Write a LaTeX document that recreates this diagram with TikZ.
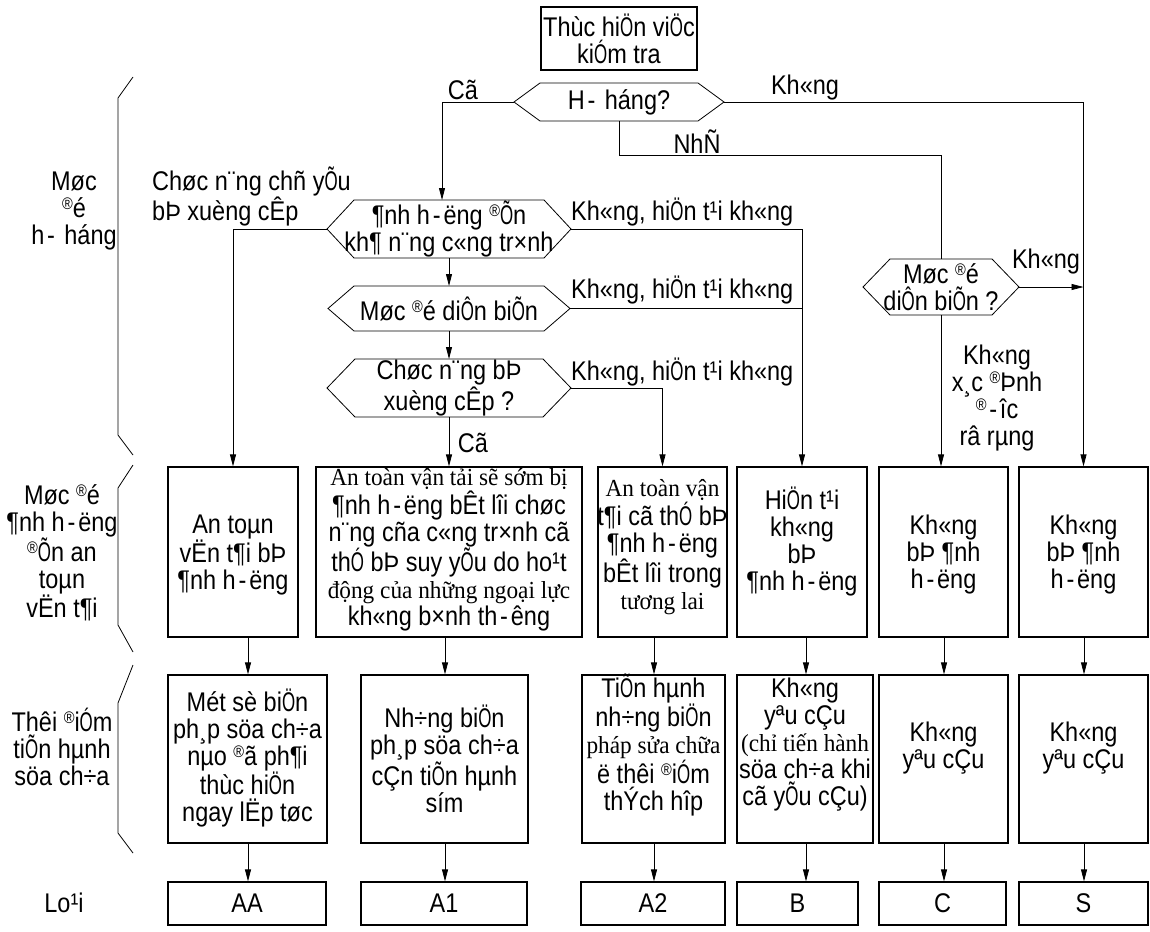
\documentclass[tikz,border=0pt]{standalone}
\usepackage{fontspec}
\setmainfont[FakeStretch=0.87]{Liberation Sans}
\newfontfamily\vnserifface[FakeStretch=0.95]{Liberation Serif}
\newcommand{\vnserif}{\vnserifface\fontsize{24.5}{27}\selectfont}
\newcommand{\vnR}{\raisebox{0.3em}{\scalebox{0.62}{®}}}
\newcommand{\vnh}{\makebox[0.5em]{-}}
\newcommand{\vnO}[1]{\scalebox{0.72}[1]{#1}}
\usetikzlibrary{arrows.meta,calc}
\newcommand{\myhex}[7]{%
  \node[txt] (#1) at (#2,#3) {#7};
  \coordinate (#1-w) at ({#2-#4-#6},#3);
  \coordinate (#1-e) at ({#2+#4+#6},#3);
  \coordinate (#1-n) at (#2,{#3-#5});
  \coordinate (#1-s) at (#2,{#3+#5});
  \draw[conn] (#1-w) -- ({#2-#4},{#3-#5}) -- ({#2+#4},{#3-#5}) -- (#1-e)
     -- ({#2+#4},{#3+#5}) -- ({#2-#4},{#3+#5}) -- cycle;
}
\begin{document}
\begin{tikzpicture}[x=1pt,y=-1pt,
  every node/.style={font=\fontsize{27}{27}\selectfont, inner sep=0pt},
  txt/.style={align=center},
  boxnode/.style={draw, line width=1.2pt, rectangle},
  conn/.style={line width=0.8pt},
  arr/.style={conn, -{Triangle[length=12pt,width=6pt]}},
]
\useasboundingbox (0,0) rectangle (1150,931);

% top box
\node[boxnode, minimum width=156pt, minimum height=63pt, txt] (top) at (619,38.5) {Thùc hi\vnO{Ö}n vi\vnO{Ö}c\\ki\vnO{Ó}m tra};

% hexagons
\myhex{h1}{619}{102}{79}{19}{26}{H\vnh{} háng?}
\myhex{h2}{449}{229}{95}{29}{27}{¶nh h\vnh ëng \vnR\vnO{Õ}n\\kh¶ n¨ng c«ng tr×nh}
\myhex{h3}{449}{308.5}{95}{22.5}{26}{Møc \vnR é di\vnO{Ô}n bi\vnO{Õ}n}
\myhex{h4}{449}{388}{94}{29}{28}{Chøc n¨ng bÞ\\xuèng cÊp ?}
\myhex{h5}{941}{287}{51}{28}{27}{Møc \vnR é\\di\vnO{Ô}n bi\vnO{Õ}n ?}

% row 1 boxes
\node[boxnode, minimum width=130pt, minimum height=170pt] (r1a) at (233,552) {};
\node[boxnode, minimum width=266pt, minimum height=170pt] (r1b) at (449,552) {};
\node[boxnode, minimum width=129pt, minimum height=170pt] (r1c) at (662.5,552) {};
\node[boxnode, minimum width=130pt, minimum height=170pt] (r1d) at (802,552) {};
\node[boxnode, minimum width=129pt, minimum height=170pt] (r1e) at (943.5,552) {};
\node[boxnode, minimum width=129pt, minimum height=170pt] (r1f) at (1083.5,552) {};

\node[txt] (t1a) at (233,555) {An toµn\\vËn t¶i bÞ\\¶nh h\vnh ëng};
\node[txt] (t1b) at (449,550) {{\vnserif An toàn vận tải sẽ sớm bị}\\¶nh h\vnh ëng bÊt lîi chøc\\n¨ng cña c«ng tr×nh cã\\th\vnO{Ó} bÞ suy y\vnO{Õ}u do ho¹t\\{\vnserif động của những ngoại lực}\\kh«ng b×nh th\vnh êng};
\node[txt] (t1c) at (662.5,547) {{\vnserif An toàn vận}\\t¶i cã th\vnO{Ó} bÞ\\¶nh h\vnh ëng\\bÊt lîi trong\\{\vnserif tương lai}};
\node[txt] (t1d) at (802,541) {Hi\vnO{Ö}n t¹i\\kh«ng\\bÞ\\¶nh h\vnh ëng};
\node[txt] (t1e) at (943.5,555) {Kh«ng\\bÞ ¶nh\\h\vnh ëng};
\node[txt] (t1f) at (1083.5,555) {Kh«ng\\bÞ ¶nh\\h\vnh ëng};

% row 2 boxes
\node[boxnode, minimum width=159pt, minimum height=168pt] (r2a) at (247.5,759) {};
\node[boxnode, minimum width=167pt, minimum height=168pt] (r2b) at (444.5,759) {};
\node[boxnode, minimum width=143pt, minimum height=168pt] (r2c) at (653.5,759) {};
\node[boxnode, minimum width=136pt, minimum height=168pt] (r2d) at (805,759) {};
\node[boxnode, minimum width=129pt, minimum height=168pt] (r2e) at (943.5,759) {};
\node[boxnode, minimum width=129pt, minimum height=168pt] (r2f) at (1083.5,759) {};

\node[txt] (t2a) at (247.5,758) {Mét sè bi\vnO{Ö}n\\ph¸p söa ch÷a\\nµo \vnR ã ph¶i\\thùc hi\vnO{Ö}n\\ngay lËp tøc};
\node[txt] (t2b) at (444.5,759) {Nh÷ng bi\vnO{Ö}n\\ph¸p söa ch÷a\\cÇn ti\vnO{Õ}n hµnh\\sím};
\node[txt] (t2c) at (653.5,745) {Ti\vnO{Õ}n hµnh\\nh÷ng bi\vnO{Ö}n\\{\vnserif pháp sửa chữa}\\ë thêi \vnR i\vnO{Ó}m\\thÝch hîp};
\node[txt] (t2d) at (805,745) {Kh«ng\\yªu cÇu\\{\vnserif (chỉ tiến hành}\\söa ch÷a khi\\cã y\vnO{Õ}u cÇu)};
\node[txt] (t2e) at (943.5,748) {Kh«ng\\yªu cÇu};
\node[txt] (t2f) at (1083.5,748) {Kh«ng\\yªu cÇu};

% row 3 boxes
\node[boxnode, minimum width=158pt, minimum height=43pt] (r3a) at (247,903.5) {AA};
\node[boxnode, minimum width=166pt, minimum height=43pt] (r3b) at (444,903.5) {A1};
\node[boxnode, minimum width=144pt, minimum height=43pt] (r3c) at (653,903.5) {A2};
\node[boxnode, minimum width=121pt, minimum height=43pt] (r3d) at (797.5,903.5) {B};
\node[boxnode, minimum width=127pt, minimum height=43pt] (r3e) at (942.5,903.5) {C};
\node[boxnode, minimum width=129pt, minimum height=43pt] (r3f) at (1083.5,903.5) {S};

% column coordinates
\coordinate (xa) at (442,0);
\coordinate (c1) at (248,0);
\coordinate (c2) at (445,0);
\coordinate (c3) at (654,0);
\coordinate (c4) at (806,0);
\coordinate (c5) at (944,0);
\coordinate (c6) at (1084,0);
\coordinate (ynhe) at (0,155);

% connectors
\draw[arr] (h1-w) -| (h2-n -| xa);
\draw[arr] (h1-e) -| (r1f.north);
\draw[conn] (h1-s) |- (h5-n |- ynhe) -- (h5-n);
\draw[arr] (h2-s) -- (h3-n);
\draw[arr] (h2-w) -| (r1a.north);
\draw[arr] (h2-e) -| (r1d.north);
\draw[arr] (h3-s) -- (h4-n);
\draw[conn] (h3-e) -- (h3-e -| r1d.north);
\draw[arr] (h4-s) -- (r1b.north);
\draw[arr] (h4-e) -| (r1c.north);
\draw[arr] (h5-e) -- (h5-e -| r1f.north);
\draw[arr] (h5-s) -- (h5-s |- r1e.north);

\draw[arr] (r1a.south -| c1) -- (r2a.north -| c1);
\draw[arr] (r1b.south -| c2) -- (r2b.north -| c2);
\draw[arr] (r1c.south -| c3) -- (r2c.north -| c3);
\draw[arr] (r1d.south -| c4) -- (r2d.north -| c4);
\draw[arr] (r1e.south -| c5) -- (r2e.north -| c5);
\draw[arr] (r1f.south -| c6) -- (r2f.north -| c6);
\draw[arr] (r2a.south -| c1) -- (r3a.north -| c1);
\draw[arr] (r2b.south -| c2) -- (r3b.north -| c2);
\draw[arr] (r2c.south -| c3) -- (r3c.north -| c3);
\draw[arr] (r2d.south -| c4) -- (r3d.north -| c4);
\draw[arr] (r2e.south -| c5) -- (r3e.north -| c5);
\draw[arr] (r2f.south -| c6) -- (r3f.north -| c6);

% connector labels
\node (lco1) at (463,90) {Cã};
\node (lkh1) at (805,88) {Kh«ng};
\node (lnhe) at (697,142) {NhÑ};
\node[align=left, anchor=west] (lcn) at (152,196.5) {Chøc n¨ng chñ y\vnO{Õ}u\\ bÞ xuèng cÊp};
\node[anchor=west] (lk1) at (571,212) {Kh«ng, hi\vnO{Ö}n t¹i kh«ng};
\node[anchor=west] (lk2) at (571,290) {Kh«ng, hi\vnO{Ö}n t¹i kh«ng};
\node[anchor=west] (lk3) at (571,372) {Kh«ng, hi\vnO{Ö}n t¹i kh«ng};
\node (lkh5) at (1046,262) {Kh«ng};
\node (lco4) at (473,443) {Cã};
\node[txt] (lxd) at (997,398) {Kh«ng\\x¸c \vnR Þnh\\\vnR\vnh îc\\râ rµng};

% left brackets and labels
\draw[conn] (133,77) -- (118,98) -- (118,435) -- (133,455);
\draw[conn] (133,465) -- (118,488) -- (118,625) -- (133,652);
\draw[conn] (133,665) -- (118,703) -- (118,833) -- (133,853);
\node[txt] (g1) at (74,211) {Møc\\\vnR é\\h\vnh{} háng};
\node[txt] (g2) at (62,553) {Møc \vnR é\\¶nh h\vnh ëng\\\vnR\vnO{Õ}n an\\toµn\\vËn t¶i};
\node[txt] (g3) at (62,747) {Thêi \vnR i\vnO{Ó}m\\ti\vnO{Õ}n hµnh\\söa ch÷a};
\node (g4) at (64,903) {Lo¹i};
\end{tikzpicture}
\end{document}
